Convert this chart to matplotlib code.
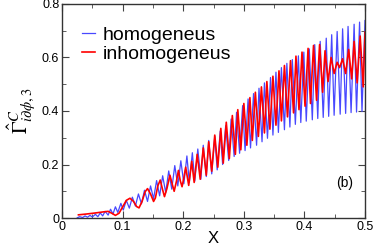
import matplotlib
matplotlib.use('Agg')
import matplotlib.pyplot as plt
from matplotlib.ticker import MultipleLocator

plt.rcParams['font.family'] = ['Liberation Sans', 'DejaVu Sans']
plt.rcParams['mathtext.fontset'] = 'stix'

# homogeneus curve: extrema (x, value)
blue_x = [0.025, 0.029, 0.034, 0.038, 0.042, 0.046, 0.050, 0.055, 0.059, 0.063,
          0.067, 0.071, 0.076, 0.080, 0.084, 0.088, 0.092, 0.097, 0.101,
          0.106, 0.111, 0.116, 0.121, 0.126, 0.131, 0.136, 0.141, 0.146, 0.151,
          0.156, 0.161, 0.166, 0.171, 0.176, 0.181, 0.186, 0.191, 0.196, 0.201,
          0.206, 0.210, 0.215, 0.219, 0.224, 0.229, 0.233, 0.238, 0.242, 0.247,
          0.252, 0.256, 0.261, 0.265, 0.270, 0.275, 0.279, 0.284, 0.288, 0.293,
          0.298, 0.302, 0.307, 0.311, 0.316, 0.321, 0.325, 0.330, 0.334, 0.339,
          0.344, 0.348, 0.353, 0.357, 0.362, 0.367, 0.371, 0.376, 0.380, 0.385,
          0.390, 0.394, 0.399, 0.403, 0.408, 0.413, 0.417, 0.422, 0.426, 0.431,
          0.436, 0.440, 0.445, 0.449, 0.454, 0.459, 0.463, 0.468, 0.472, 0.477,
          0.482, 0.486, 0.491, 0.495, 0.500]
blue_y = [0.001, 0.005, 0.002, 0.008, 0.003, 0.010, 0.004, 0.014, 0.005, 0.019,
          0.008, 0.025, 0.011, 0.033, 0.015, 0.042, 0.021, 0.055, 0.030,
          0.066, 0.037, 0.078, 0.045, 0.090, 0.053, 0.104, 0.062, 0.120, 0.072,
          0.140, 0.083, 0.158, 0.095, 0.176, 0.108, 0.196, 0.120, 0.214, 0.128,
          0.232, 0.133, 0.244, 0.138, 0.258, 0.145, 0.272, 0.155, 0.290, 0.165,
          0.305, 0.180, 0.325, 0.200, 0.345, 0.215, 0.370, 0.230, 0.395, 0.242,
          0.420, 0.252, 0.445, 0.262, 0.465, 0.272, 0.485, 0.285, 0.505, 0.298,
          0.525, 0.310, 0.545, 0.320, 0.562, 0.330, 0.578, 0.340, 0.592, 0.350,
          0.606, 0.357, 0.620, 0.362, 0.632, 0.367, 0.648, 0.372, 0.660, 0.376,
          0.672, 0.380, 0.685, 0.384, 0.697, 0.388, 0.707, 0.391, 0.716, 0.394,
          0.724, 0.396, 0.732, 0.398, 0.738]

# inhomogeneus curve
red_x = [0.027, 0.040, 0.055, 0.068, 0.076, 0.082, 0.088, 0.094, 0.100, 0.106,
         0.112, 0.118, 0.123, 0.127, 0.132, 0.137, 0.141, 0.146, 0.151, 0.154,
         0.158, 0.162, 0.166, 0.169, 0.173, 0.178, 0.182, 0.185, 0.189, 0.192,
         0.195, 0.198, 0.201, 0.204,
         0.209, 0.214, 0.218, 0.223, 0.228, 0.233, 0.238, 0.242, 0.247, 0.252,
         0.257, 0.262, 0.266, 0.271, 0.276, 0.281, 0.286, 0.290, 0.295, 0.300,
         0.305, 0.310, 0.314, 0.319, 0.324, 0.329, 0.334, 0.338, 0.343, 0.348,
         0.353, 0.358, 0.362, 0.367, 0.372, 0.377, 0.382, 0.386, 0.391, 0.396,
         0.401, 0.406, 0.410, 0.415, 0.420, 0.425, 0.430, 0.434, 0.439, 0.444,
         0.449, 0.454, 0.458, 0.463, 0.468, 0.473, 0.478, 0.482, 0.487, 0.492,
         0.497, 0.500]
red_y = [0.012, 0.015, 0.019, 0.023, 0.025, 0.018, 0.010, 0.018, 0.042, 0.066,
         0.074, 0.062, 0.043, 0.038, 0.062, 0.098, 0.110, 0.090, 0.062, 0.075,
         0.120, 0.142, 0.105, 0.080, 0.110, 0.160, 0.125, 0.100, 0.140, 0.178,
         0.140, 0.117, 0.150, 0.190,
         0.122, 0.212, 0.133, 0.238, 0.145, 0.262, 0.160, 0.285, 0.175, 0.310,
         0.190, 0.335, 0.205, 0.358, 0.222, 0.383, 0.238, 0.405, 0.255, 0.428,
         0.272, 0.450, 0.290, 0.470, 0.305, 0.490, 0.318, 0.510, 0.332, 0.530,
         0.347, 0.550, 0.363, 0.570, 0.378, 0.588, 0.393, 0.605, 0.405, 0.620,
         0.418, 0.634, 0.428, 0.645, 0.440, 0.648, 0.470, 0.625, 0.510, 0.600,
         0.540, 0.582, 0.562, 0.595, 0.540, 0.630, 0.520, 0.660, 0.505, 0.680,
         0.490, 0.695]

x_ticks = [0, 0.1, 0.2, 0.3, 0.4, 0.5]
x_labels = ['0', '0.1', '0.2', '0.3', '0.4', '0.5']
y_ticks = [0, 0.2, 0.4, 0.6, 0.8]
y_labels = ['0', '0.2', '0.4', '0.6', '0.8']

fig = plt.figure(figsize=(3.74, 2.45), dpi=100)
ax = fig.add_axes([0.166, 0.110, 0.810, 0.874])

ax.plot(blue_x, blue_y, color='#4848ff', lw=0.9, label='homogeneus')
ax.plot(red_x, red_y, color='#ff0000', lw=1.2, label='inhomogeneus')

ax.set_xlim(0, 0.5)
ax.set_ylim(0, 0.8)
ax.set_xticks(x_ticks)
ax.set_xticklabels(x_labels)
ax.set_yticks(y_ticks)
ax.set_yticklabels(y_labels)
ax.xaxis.set_minor_locator(MultipleLocator(0.05))
ax.yaxis.set_minor_locator(MultipleLocator(0.1))
ax.tick_params(which='both', direction='in', top=True, right=True,
               labelsize=9, pad=2, color='#444444')
ax.tick_params(which='major', length=5)
ax.tick_params(which='minor', length=3)
for s in ax.spines.values():
    s.set_color('#333333')
    s.set_linewidth(1.0)

ax.set_xlabel('X', fontsize=12, labelpad=-1)
ax.set_ylabel(r'$\hat{\Gamma}^{C}_{i\partial\phi,3}$', fontsize=15, labelpad=3)

ax.legend(loc='upper left', bbox_to_anchor=(0.04, 0.93), frameon=False,
          fontsize=14, handlelength=0.65, handletextpad=0.4, labelspacing=0.05,
          borderaxespad=0)

ax.text(0.934, 0.164, '(b)', transform=ax.transAxes, fontsize=10,
        ha='center', va='center')

fig.savefig('out.png', dpi=100)
